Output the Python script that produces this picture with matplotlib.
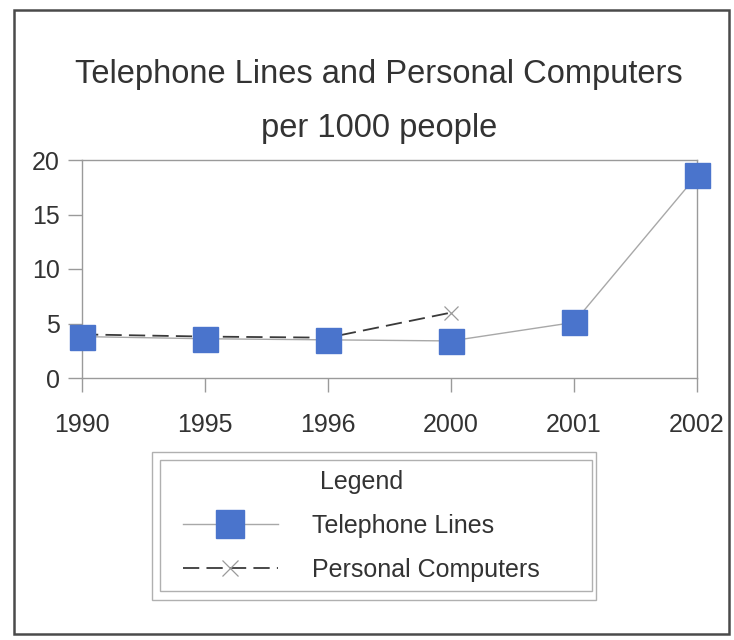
import matplotlib as mpl
import matplotlib.pyplot as plt
from matplotlib.patches import Rectangle

mpl.use('Agg')
plt.rcParams['font.family'] = ['Liberation Sans', 'DejaVu Sans']

# data
years = ['1990', '1995', '1996', '2000', '2001', '2002']
telephone = [3.8, 3.6, 3.5, 3.4, 5.1, 18.6]
pc_years = ['1990', '1995', '1996', '2000']
computers = [4.0, 3.8, 3.7, 6.0]
yticks = [0, 5, 10, 15, 20]

W, H = 734, 640
fig = plt.figure(figsize=(W / 100, H / 100), dpi=100)

# outer frame of the scanned chart
fig.patches.append(Rectangle((14 / W, 1 - 634 / H), (729 - 14) / W, (634 - 10) / H,
                             transform=fig.transFigure, fill=False,
                             edgecolor='#4a4a4a', linewidth=1.8))

ax = fig.add_axes([82 / W, 1 - 378 / H, (697 - 82) / W, (378 - 160) / H])
xpos = list(range(len(years)))
pc_pos = [years.index(y) for y in pc_years]

ax.plot(pc_pos, computers, color='#3a3a3a', linewidth=1.3, linestyle=(0, (9, 4)),
        marker='x', markersize=10, markeredgecolor='#9a9a9a', markeredgewidth=0.9,
        label='Personal Computers', zorder=3, clip_on=False)
ax.plot(xpos, telephone, color='#a8a8a8', linewidth=1.0, marker='s',
        markersize=18, markerfacecolor='#4a74cc', markeredgecolor='#4a74cc',
        label='Telephone Lines', zorder=4, clip_on=False)

ax.set_xlim(0, len(years) - 1)
ax.set_ylim(0, 20)
ax.set_xticks(xpos)
ax.set_xticklabels(years)
ax.set_yticks(yticks)
for s in ax.spines.values():
    s.set_color('#9a9a9a')
    s.set_linewidth(1.0)
ax.tick_params(axis='both', direction='out', length=10, width=1.0, color='#9a9a9a',
               labelsize=18, labelcolor='#333333')
ax.tick_params(axis='x', pad=15)
ax.tick_params(axis='y', pad=6)

fig.text(379 / W, 1 - 75 / H, 'Telephone Lines and Personal Computers',
         ha='center', va='center', fontsize=23.5, color='#333333')
fig.text(379 / W, 1 - 128 / H, 'per 1000 people',
         ha='center', va='center', fontsize=23.5, color='#333333')

# legend box with double border
fig.patches.append(Rectangle((152 / W, 1 - 600 / H), (596 - 152) / W, (600 - 452) / H,
                             transform=fig.transFigure, fill=False,
                             edgecolor='#b0b0b0', linewidth=1.0))
fig.patches.append(Rectangle((160 / W, 1 - 591 / H), (592 - 160) / W, (591 - 460) / H,
                             transform=fig.transFigure, fill=False,
                             edgecolor='#b0b0b0', linewidth=1.0))
handles, labels = ax.get_legend_handles_labels()
leg = fig.legend(handles[::-1], labels[::-1], loc='upper left',
                 bbox_to_anchor=(160 / W, 1 - 447 / H),
                 frameon=False, title='Legend', fontsize=18, title_fontsize=18,
                 handlelength=3.8, handletextpad=1.4, labelspacing=0.8,
                 markerscale=1.15)
for t in leg.get_texts():
    t.set_color('#333333')
leg.get_title().set_color('#333333')

fig.savefig('out.png', dpi=100)
